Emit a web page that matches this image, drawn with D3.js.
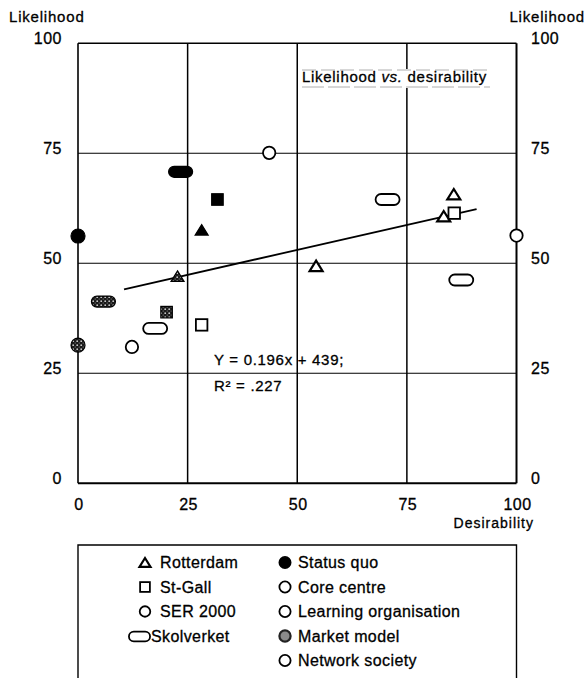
<!DOCTYPE html>
<html>
<head>
<meta charset="utf-8">
<script src="https://cdn.jsdelivr.net/npm/d3@7/dist/d3.min.js"></script>
<style>
  html, body { margin: 0; padding: 0; background: #fff; }
  svg { display: block; font-family: "Liberation Sans", Arial, Helvetica, sans-serif; }
  svg text { stroke: #000; stroke-width: 0.3px; fill: #000; }
</style>
</head>
<body>
<svg id="chart" width="587" height="678"></svg>
<script>
// Studies (marker shape) and scenarios (marker fill)
const studies = ["Rotterdam", "St-Gall", "SER 2000", "Skolverket"];
const scenarios = ["Status quo", "Core centre", "Learning organisation", "Market model", "Network society"];

// One entry per scenario estimate
const pointStudy = [
  "Rotterdam", "Rotterdam", "Rotterdam", "Rotterdam", "Rotterdam",
  "St-Gall", "St-Gall", "St-Gall", "St-Gall",
  "SER 2000", "SER 2000", "SER 2000", "SER 2000", "SER 2000",
  "Skolverket", "Skolverket", "Skolverket", "Skolverket", "Skolverket"
];
const pointScenario = [
  "Status quo", "Market model", "Core centre", "Learning organisation", "Network society",
  "Status quo", "Market model", "Core centre", "Network society",
  "Status quo", "Market model", "Core centre", "Learning organisation", "Network society",
  "Status quo", "Market model", "Core centre", "Learning organisation", "Network society"
];
const desirability = [
  28.2, 22.7, 54.3, 83.4, 85.7,
  31.8, 20.2, 28.2, 85.8,
  0, 0, 12.3, 43.6, 100,
  23.4, 5.8, 17.6, 70.6, 87.4
];
const likelihood = [
  57.6, 47.1, 49.4, 60.7, 65.7,
  64.5, 38.9, 36.0, 61.4,
  56.2, 31.4, 31.0, 75.1, 56.3,
  70.8, 41.3, 35.2, 64.5, 46.2
];

// Regression line end points (desirability, likelihood)
const trendX = [10.5, 90.9];
const trendY = [44.1, 62.3];
const equationLines = ["Y = 0.196x + 439;", "R\u00B2 = .227"];

const xTicks = [0, 25, 50, 75, 100];
const yTicks = [0, 25, 50, 75, 100];
const gridValues = [25, 50, 75];

const svg = d3.select("#chart");
const x = d3.scaleLinear().domain([0, 100]).range([78, 516.5]);
const y = d3.scaleLinear().domain([0, 100]).range([483.3, 43.3]);

// Speckled fill for the market model markers
const defs = svg.append("defs");
const pat = defs.append("pattern").attr("id", "speckle")
  .attr("patternUnits", "userSpaceOnUse").attr("width", 4).attr("height", 4);
pat.append("rect").attr("width", 4).attr("height", 4).attr("fill", "#1a1a1a");
pat.append("circle").attr("cx", 1.2).attr("cy", 1.2).attr("r", 0.9).attr("fill", "#c8c8c8");
pat.append("circle").attr("cx", 3.2).attr("cy", 3).attr("r", 0.6).attr("fill", "#9a9a9a");

const fillFor = s => s === "Status quo" ? "#000" : (s === "Market model" ? "url(#speckle)" : "#fff");

// Grid lines
const g = svg.append("g");
g.selectAll("line.hgrid").data(gridValues).join("line")
  .attr("x1", x(0)).attr("x2", x(100))
  .attr("y1", d => y(d)).attr("y2", d => y(d))
  .attr("stroke", "#000").attr("stroke-width", 1.1);
g.selectAll("line.vgrid").data(gridValues).join("line")
  .attr("y1", y(100)).attr("y2", y(0))
  .attr("x1", d => x(d)).attr("x2", d => x(d))
  .attr("stroke", "#000").attr("stroke-width", 1.5);

// Plot frame
g.append("line").attr("x1", x(0)).attr("x2", x(100)).attr("y1", y(100)).attr("y2", y(100)).attr("stroke", "#000").attr("stroke-width", 1.6);
g.append("line").attr("x1", x(0)).attr("x2", x(0)).attr("y1", y(100)).attr("y2", y(0)).attr("stroke", "#000").attr("stroke-width", 1.6);
g.append("line").attr("x1", x(100)).attr("x2", x(100)).attr("y1", y(100)).attr("y2", y(0)).attr("stroke", "#000").attr("stroke-width", 2);
g.append("line").attr("x1", x(0)).attr("x2", x(100)).attr("y1", y(0)).attr("y2", y(0)).attr("stroke", "#000").attr("stroke-width", 2);

// Axis tick labels
const tickFont = 16;
svg.selectAll("text.yl").data(yTicks).join("text")
  .attr("x", 62).attr("y", d => y(d) + 1).attr("text-anchor", "end")
  .attr("font-size", tickFont).attr("letter-spacing", 0.5).text(d => d);
svg.selectAll("text.yr").data(yTicks).join("text")
  .attr("x", 531).attr("y", d => y(d) + 1).attr("text-anchor", "start")
  .attr("font-size", tickFont).attr("letter-spacing", 0.5).text(d => d);
svg.selectAll("text.xl").data(xTicks).join("text")
  .attr("x", d => x(d) + 1).attr("y", 510).attr("text-anchor", "middle")
  .attr("font-size", tickFont).attr("letter-spacing", 0.5).text(d => d);

// Axis titles
svg.append("text").attr("x", 9).attr("y", 22).attr("font-size", 15).attr("letter-spacing", 0.8).text("Likelihood");
svg.append("text").attr("x", 585).attr("y", 22).attr("text-anchor", "end").attr("font-size", 15).attr("letter-spacing", 0.8).text("Likelihood");
svg.append("text").attr("x", 534).attr("y", 528).attr("text-anchor", "end").attr("font-size", 14).attr("letter-spacing", 1).text("Desirability");

// Chart title inside the plot, on a white plate
const tg = svg.append("g");
tg.append("rect").attr("x", 300).attr("y", 69).attr("width", 191).attr("height", 19).attr("fill", "#fff");
tg.append("line").attr("x1", 302).attr("x2", 490).attr("y1", 70).attr("y2", 70)
  .attr("stroke", "#999").attr("stroke-width", 0.8).attr("stroke-dasharray", "14 5");
tg.append("line").attr("x1", 302).attr("x2", 490).attr("y1", 87).attr("y2", 87)
  .attr("stroke", "#999").attr("stroke-width", 0.8).attr("stroke-dasharray", "22 4");
const title = tg.append("text").attr("x", 302).attr("y", 82).attr("font-size", 15).attr("letter-spacing", 0.7);
title.append("tspan").text("Likelihood ");
title.append("tspan").attr("font-style", "italic").text("vs.");
title.append("tspan").text(" desirability");

// Regression line
svg.append("line")
  .attr("x1", x(trendX[0])).attr("y1", y(trendY[0]))
  .attr("x2", x(trendX[1])).attr("y2", y(trendY[1]))
  .attr("stroke", "#000").attr("stroke-width", 1.8);

svg.selectAll("text.eq").data(equationLines).join("text")
  .attr("x", 214).attr("y", (d, i) => 365 + i * 26)
  .attr("font-size", 15).attr("letter-spacing", 0.7).text(d => d);

// Marker drawing
function drawMarker(sel, study, fill, cx, cy, scale) {
  const k = scale || 1;
  const sw = fill === "#fff" ? 1.8 : 1.2;
  if (study === "Rotterdam") {
    const w = 13 * k, h = 10.5 * k;
    sel.append("path")
      .attr("d", `M${cx},${cy - h / 2}L${cx + w / 2},${cy + h / 2}L${cx - w / 2},${cy + h / 2}Z`)
      .attr("fill", fill).attr("stroke", "#000").attr("stroke-width", fill === "#fff" ? 2.2 : 1.2)
      .attr("stroke-linejoin", "miter");
  } else if (study === "St-Gall") {
    const s = 11.5 * k;
    sel.append("rect").attr("x", cx - s / 2).attr("y", cy - s / 2).attr("width", s).attr("height", s)
      .attr("fill", fill).attr("stroke", "#000").attr("stroke-width", sw);
  } else if (study === "SER 2000") {
    sel.append("circle").attr("cx", cx).attr("cy", cy).attr("r", (fill === "#fff" ? 6.2 : 7) * k)
      .attr("fill", fill).attr("stroke", "#000").attr("stroke-width", sw);
  } else {
    const w = 24 * k, h = 11 * k;
    sel.append("rect").attr("x", cx - w / 2).attr("y", cy - h / 2).attr("width", w).attr("height", h)
      .attr("rx", h / 2).attr("ry", h / 2)
      .attr("fill", fill).attr("stroke", "#000").attr("stroke-width", sw);
  }
}

const pts = svg.append("g");
desirability.forEach((d, i) => {
  drawMarker(pts, pointStudy[i], fillFor(pointScenario[i]), x(d), y(likelihood[i]), 1);
});

// Legend
const lg = svg.append("g");
lg.append("path")
  .attr("d", `M${x(0)},700V545H${x(100)}V700`)
  .attr("fill", "none").attr("stroke", "#000").attr("stroke-width", 1.4);

const rowY = i => 568 + i * 24.5;
studies.forEach((s, i) => {
  const row = lg.append("g");
  if (s === "Skolverket") {
    drawMarker(row, s, "#fff", 139.5, rowY(i) - 5, 0.88);
    row.append("text").attr("x", 151).attr("y", rowY(i)).attr("font-size", 16).attr("letter-spacing", 0.4).text(s);
  } else {
    drawMarker(row, s, "#fff", 145, rowY(i) - 5.5, 0.85);
    row.append("text").attr("x", 160).attr("y", rowY(i)).attr("font-size", 16).attr("letter-spacing", 0.4).text(s);
  }
});
scenarios.forEach((s, i) => {
  const row = lg.append("g");
  const f = s === "Status quo" ? "#000" : (s === "Market model" ? "#8a8a8a" : "#fff");
  row.append("circle").attr("cx", 285).attr("cy", rowY(i) - 5.5).attr("r", 5.6)
    .attr("fill", f).attr("stroke", s === "Market model" ? "#222" : "#000")
    .attr("stroke-width", s === "Market model" ? 2.2 : 1.8);
  row.append("text").attr("x", 298).attr("y", rowY(i)).attr("font-size", 16).attr("letter-spacing", 0.4).text(s);
});
</script>
</body>
</html>
